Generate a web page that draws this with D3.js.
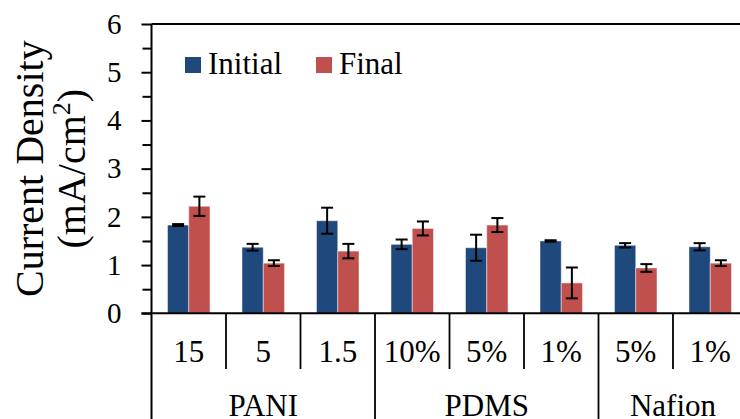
<!DOCTYPE html>
<html>
<head>
<meta charset="utf-8">
<script src="https://cdn.jsdelivr.net/npm/d3@7/dist/d3.min.js"></script>
<style>
  html, body { margin: 0; padding: 0; background: #fff; overflow: hidden; }
  svg { display: block; }
</style>
</head>
<body>
<svg id="chart" width="740" height="419"></svg>
<script>
// Membrane groups and the sub-category labels beneath the bars
const groups = ["PANI", "PDMS", "Nafion"];
const groupSizes = [3, 3, 2];
const subLabels = ["15", "5", "1.5", "10%", "5%", "1%", "5%", "1%"];

// Series: current density (mA/cm²) with error bars
const seriesNames = ["Initial", "Final"];
const initialValues = [1.83, 1.37, 1.92, 1.43, 1.36, 1.50, 1.41, 1.38];
const initialErrors = [0.02, 0.07, 0.27, 0.10, 0.27, 0.015, 0.045, 0.075];
const finalValues = [2.22, 1.04, 1.29, 1.76, 1.83, 0.63, 0.94, 1.04];
const finalErrors = [0.20, 0.06, 0.15, 0.145, 0.145, 0.32, 0.08, 0.06];

const yTicks = [0, 1, 2, 3, 4, 5, 6];
const yMinorTicks = [0.5, 1.5, 2.5, 3.5, 4.5, 5.5];

const colors = { Initial: "#1F497D", Final: "#C0504D" };
const FONT = "'Liberation Serif', 'Times New Roman', Tinos, serif";

(function draw() {
  const svg = d3.select("#chart");
  const plotLeft = 151.5, plotRight = 747.5, plotTop = 24, plotBottom = 313.3;

  const idx = subLabels.map((_, i) => i);
  const x = d3.scaleBand().domain(idx).range([plotLeft, plotRight]).paddingInner(0).paddingOuter(0);
  const xs = d3.scaleBand().domain(seriesNames).range([0, x.bandwidth()]).paddingInner(0).paddingOuter(0.753);
  const y = d3.scaleLinear().domain([0, 6]).range([plotBottom, plotTop]);

  const rows = idx.map(i => ({
    i,
    bars: [
      { s: "Initial", v: initialValues[i], e: initialErrors[i] },
      { s: "Final", v: finalValues[i], e: finalErrors[i] }
    ]
  }));

  // Bars
  const cat = svg.append("g").selectAll("g").data(rows).join("g")
    .attr("transform", d => `translate(${x(d.i)},0)`);
  cat.selectAll("rect").data(d => d.bars).join("rect")
    .attr("x", d => xs(d.s))
    .attr("y", d => y(d.v))
    .attr("width", xs.bandwidth())
    .attr("height", d => y(0) - y(d.v))
    .attr("fill", d => colors[d.s])
    .attr("stroke", "rgba(255,255,255,0.45)")
    .attr("stroke-width", 1);

  // Error bars
  const cx = d => xs(d.s) + xs.bandwidth() / 2;
  const eb = cat.selectAll("g.err").data(d => d.bars).join("g").attr("class", "err")
    .attr("stroke", "#000").attr("stroke-width", 2);
  eb.append("line")
    .attr("x1", cx).attr("x2", cx)
    .attr("y1", d => y(d.v + d.e)).attr("y2", d => y(d.v - d.e));
  eb.append("line")
    .attr("x1", d => cx(d) - 6).attr("x2", d => cx(d) + 6)
    .attr("y1", d => y(d.v + d.e)).attr("y2", d => y(d.v + d.e));
  eb.append("line")
    .attr("x1", d => cx(d) - 6).attr("x2", d => cx(d) + 6)
    .attr("y1", d => y(d.v - d.e)).attr("y2", d => y(d.v - d.e));

  // Y axis: major ticks with labels, minor ticks at halves
  const yAxis = svg.append("g").attr("transform", `translate(${plotLeft},0)`)
    .call(d3.axisLeft(y).tickValues(yTicks).tickSize(10).tickSizeOuter(0).tickPadding(20).tickFormat(d3.format("d")));
  yAxis.select(".domain").remove();
  yAxis.selectAll(".tick line").attr("stroke", "#000").attr("stroke-width", 2);
  yAxis.selectAll(".tick text").attr("fill", "#000")
    .style("font-family", FONT).style("font-size", "29px");

  const yMinor = svg.append("g").attr("transform", `translate(${plotLeft},0)`)
    .call(d3.axisLeft(y).tickValues(yMinorTicks).tickSize(9).tickFormat(""));
  yMinor.select(".domain").remove();
  yMinor.selectAll(".tick line").attr("stroke", "#000").attr("stroke-width", 2);

  // Frame: left axis (running down through the category rows), top border, baseline
  const frame = svg.append("g").attr("stroke", "#000").attr("stroke-width", 2);
  frame.append("line").attr("x1", plotLeft).attr("x2", plotLeft).attr("y1", plotTop).attr("y2", 419);
  frame.append("line").attr("x1", plotLeft).attr("x2", plotRight).attr("y1", plotTop).attr("y2", plotTop);
  frame.append("line").attr("x1", plotLeft - 10).attr("x2", plotRight).attr("y1", plotBottom).attr("y2", plotBottom);

  // Category separators: short between sub-categories, full height between groups
  const groupStarts = [];
  groupSizes.reduce((acc, n) => { groupStarts.push(acc); return acc + n; }, 0);
  d3.range(1, subLabels.length + 1).forEach(b => {
    const bx = b < subLabels.length ? x(b) : plotRight;
    const isGroup = groupStarts.includes(b) || b === subLabels.length;
    frame.append("line").attr("x1", bx).attr("x2", bx)
      .attr("y1", plotBottom).attr("y2", isGroup ? 419 : 369)
      .attr("stroke-width", 1.8);
  });

  // Sub-category labels
  svg.append("g").selectAll("text").data(idx).join("text")
    .attr("x", i => x(i) + x.bandwidth() / 2)
    .attr("y", 362)
    .attr("text-anchor", "middle")
    .style("font-family", FONT).style("font-size", "31px")
    .text(i => subLabels[i]);

  // Group labels
  svg.append("g").selectAll("text").data(groups).join("text")
    .attr("x", (g, k) => {
      const s = groupStarts[k], e = s + groupSizes[k];
      const x0 = x(s), x1 = e < subLabels.length ? x(e) : plotRight;
      return (x0 + x1) / 2;
    })
    .attr("y", 416)
    .attr("text-anchor", "middle")
    .style("font-family", FONT).style("font-size", "31px")
    .text(g => g);

  // Y axis title
  const title = svg.append("text")
    .attr("transform", `translate(0,${(plotTop + plotBottom) / 2}) rotate(-90)`)
    .attr("text-anchor", "middle")
    .style("font-family", FONT).style("font-size", "40px");
  title.append("tspan").attr("x", 0).attr("y", 43).text("Current Density");
  const t2 = title.append("tspan").attr("x", 0).attr("y", 85);
  t2.append("tspan").text("(mA/cm");
  t2.append("tspan").style("font-size", "26px").attr("dy", -15).text("2");
  t2.append("tspan").attr("dy", 15).text(")");

  // Legend
  const legendPos = [{ s: "Initial", x: 185 }, { s: "Final", x: 316 }];
  const lg = svg.append("g").selectAll("g").data(legendPos).join("g")
    .attr("transform", d => `translate(${d.x},57)`);
  lg.append("rect").attr("width", 16).attr("height", 16).attr("fill", d => colors[d.s]);
  lg.append("text").attr("x", 23).attr("y", 17)
    .style("font-family", FONT).style("font-size", "31px")
    .text(d => d.s);
})();
</script>
</body>
</html>
